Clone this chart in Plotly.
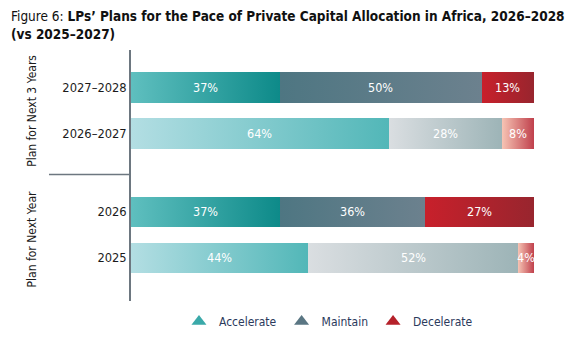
import plotly.graph_objects as go
import json

# ---- data ----
categories = ["2027–2028", "2026–2027", "2026", "2025"]
accelerate = [37, 64, 37, 44]
maintain = [50, 28, 36, 52]
decelerate = [13, 8, 27, 4]
series_names = ["Accelerate", "Maintain", "Decelerate"]
group_labels = ["Plan for Next 3 Years", "Plan for Next Year"]

# ---- layout positions (rows) ----
ypos = [3.7, 2.7, 1.0, 0.0]
is_current = [True, False, True, False]

FONT = "DejaVu Sans Condensed, Liberation Sans Narrow, Arial Narrow, sans-serif"

# solid base colours (current-period bars, prior-period bars)
cur_cols = ["rgb(54, 165, 164)", "rgb(93, 124, 136)", "rgb(176, 35, 44)"]
old_cols = ["rgb(130, 202, 205)", "rgb(187, 201, 204)", "rgb(219, 130, 128)"]
# gradients (left -> right) keyed by base colour
grads = {
    cur_cols[0]: ("#5fbfbf", "#0d8a89"),
    cur_cols[1]: ("#4e7682", "#6c818e"),
    cur_cols[2]: ("#c8202b", "#98252e"),
    old_cols[0]: ("#b3dee3", "#52b7b8"),
    old_cols[1]: ("#dadee1", "#9db4b7"),
    old_cols[2]: ("#f6c4b4", "#c0404c"),
}
legend_cols = ["#3aa9a9", "#5a7683", "#b5212a"]

fig = go.Figure()
all_series = [accelerate, maintain, decelerate]
for i, (name, vals) in enumerate(zip(series_names, all_series)):
    cols = [cur_cols[i] if c else old_cols[i] for c in is_current]
    fig.add_trace(go.Bar(
        x=vals, y=ypos, orientation="h", name=name, showlegend=False,
        width=0.66, marker=dict(color=cols, line=dict(width=0)),
        hoverinfo="skip",
    ))

for name, col in zip(series_names, legend_cols):
    fig.add_trace(go.Scatter(
        x=[None], y=[None], mode="markers", name=name,
        marker=dict(symbol="triangle-up", size=13, color=col, line=dict(width=0)),
    ))

annotations = []
# bar value labels, centred on each segment
for r in range(len(categories)):
    start = 0
    for vals in all_series:
        v = vals[r]
        annotations.append(dict(
            text=f"{v}%", x=start + v / 2, y=ypos[r], xref="x", yref="y",
            showarrow=False, font=dict(color="white", size=12.5, family=FONT),
        ))
        start += v

annotations += [
    dict(text=group_labels[0], xref="paper", yref="y", x=(23 - 131) / 403, y=3.19,
         textangle=-90, showarrow=False, font=dict(size=12, color="#1b1b1b")),
    dict(text=group_labels[1], xref="paper", yref="y", x=(23 - 131) / 403, y=0.40,
         textangle=-90, showarrow=False, font=dict(size=12, color="#1b1b1b")),
    dict(text="Figure 6: <b>LPs’ Plans for the Pace of Private Capital Allocation in Africa, 2026–2028</b><br><b>(vs 2025–2027)</b>",
         xref="paper", yref="paper", x=(9 - 131) / 403, xanchor="left",
         y=(306 - 5) / 256, yanchor="top", align="left", showarrow=False,
         font=dict(size=13.5, family=FONT, color="#111111")),
]

fig.update_layout(
    width=573, height=348, barmode="stack", bargap=0,
    margin=dict(l=131, r=39, t=50, b=42),
    paper_bgcolor="white", plot_bgcolor="white",
    font=dict(family=FONT, color="#1b1b1b", size=13),
    xaxis=dict(range=[0, 100], visible=False, fixedrange=True),
    yaxis=dict(
        range=[-0.936, 4.51], tickvals=ypos, ticktext=categories,
        showgrid=False, zeroline=False, showline=True, linecolor="#6d7780",
        linewidth=1.5, ticks="", ticklen=0, tickfont=dict(size=12.8, color="#1b1b1b"),
        fixedrange=True,
    ),
    showlegend=True,
    legend=dict(
        orientation="h", x=0.49, xanchor="center", y=-0.082, yanchor="middle",
        font=dict(size=12, color="#2b3a5c", family=FONT), itemwidth=30,
        traceorder="normal",
    ),
    shapes=[dict(type="line", xref="paper", yref="y", x0=-0.2035, x1=0,
                 y0=1.81, y1=1.81, line=dict(color="#6d7780", width=1.5))],
    annotations=annotations,
)

grad_js = json.dumps(grads)
post = """
var gd = document.getElementById('{plot_id}');
var grads = %s;
var svg = gd.querySelector('svg.main-svg');
var ns = 'http://www.w3.org/2000/svg';
var defs = svg.querySelector('defs');
var ids = {};
var k = 0;
for (var key in grads) {
  var lg = document.createElementNS(ns, 'linearGradient');
  var id = 'bargrad' + k; k++;
  lg.setAttribute('id', id);
  lg.setAttribute('x1', '0'); lg.setAttribute('y1', '0');
  lg.setAttribute('x2', '1'); lg.setAttribute('y2', '0');
  var s1 = document.createElementNS(ns, 'stop');
  s1.setAttribute('offset', '0'); s1.setAttribute('stop-color', grads[key][0]);
  var s2 = document.createElementNS(ns, 'stop');
  s2.setAttribute('offset', '1'); s2.setAttribute('stop-color', grads[key][1]);
  lg.appendChild(s1); lg.appendChild(s2); defs.appendChild(lg);
  ids[key.replace(/\\s/g, '')] = id;
}
gd.querySelectorAll('.barlayer .point path').forEach(function(p) {
  var f = (p.style.fill || '').replace(/\\s/g, '');
  if (ids[f]) { p.style.fill = 'url(#' + ids[f] + ')'; }
});
""" % grad_js

fig.write_html("out.html", post_script=post)
